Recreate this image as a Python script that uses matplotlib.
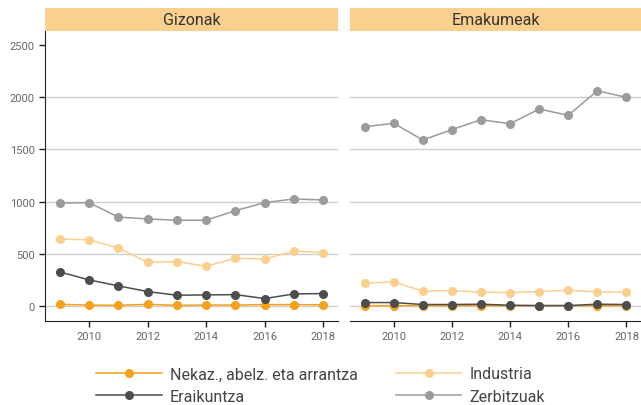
import matplotlib
matplotlib.use("Agg")
import matplotlib.pyplot as plt
from matplotlib.lines import Line2D
from matplotlib.patches import Rectangle

plt.rcParams['font.family'] = ['Roboto', 'DejaVu Sans']

years = [2009, 2010, 2011, 2012, 2013, 2014, 2015, 2016, 2017, 2018]
panels = ["Gizonak", "Emakumeak"]
series = ["Nekaz., abelz. eta arrantza", "Industria", "Eraikuntza", "Zerbitzuak"]
colors = ["#f4a11c", "#fbd08e", "#4d4d4d", "#9b9b9b"]

gizonak = {
    "Nekaz., abelz. eta arrantza": [15, 8, 5, 15, 5, 8, 8, 12, 12, 10],
    "Industria": [642, 632, 556, 418, 424, 380, 457, 450, 524, 511],
    "Eraikuntza": [326, 249, 192, 137, 102, 105, 108, 70, 115, 118],
    "Zerbitzuak": [984, 990, 852, 833, 821, 821, 913, 990, 1025, 1015],
}
emakumeak = {
    "Nekaz., abelz. eta arrantza": [2, 2, 2, 3, 2, 2, 2, 2, 2, 2],
    "Industria": [217, 230, 141, 147, 131, 128, 137, 150, 134, 134],
    "Eraikuntza": [32, 32, 13, 13, 16, 6, 3, 3, 16, 13],
    "Zerbitzuak": [1717, 1750, 1590, 1689, 1785, 1746, 1887, 1827, 2062, 1999],
}
data = [gizonak, emakumeak]

fig = plt.figure(figsize=(6.41, 4.06), dpi=100)
boxes = [(45, 338), (350, 641)]
W, H = 641, 406

for i, (x0, x1) in enumerate(boxes):
    ax = fig.add_axes([x0 / W, 1 - 322 / H, (x1 - x0) / W, 290 / H])
    for y in [0, 500, 1000, 1500, 2000]:
        ax.axhline(y, color="#cccccc", lw=1, zorder=0)
    for s, c in zip(series, colors):
        ax.plot(years, data[i][s], color=c, marker="o", ms=5.5, lw=1.1, zorder=3)
    ax.set_xlim(2008.5, 2018.5)
    ax.set_ylim(-145, 2635)
    ax.set_xticks([2010, 2012, 2014, 2016, 2018])
    ax.set_yticks([0, 500, 1000, 1500, 2000, 2500])
    for sp in ["top", "right"]:
        ax.spines[sp].set_visible(False)
    ax.spines["bottom"].set_color("#222222")
    ax.tick_params(axis="both", labelsize=8, colors="#666666", length=4, width=1)
    ax.tick_params(axis="x", color="#222222")
    if i == 0:
        ax.spines["left"].set_color("#222222")
        ax.tick_params(axis="y", color="#222222")
    else:
        ax.spines["left"].set_visible(False)
        ax.tick_params(axis="y", left=False, labelleft=False)
    # strip header
    sax = fig.add_axes([x0 / W, 1 - 32 / H, (x1 - x0) / W, 23 / H])
    sax.add_patch(Rectangle((0, 0), 1, 1, color="#fad08e", transform=sax.transAxes))
    sax.text(0.5, 0.5, panels[i], ha="center", va="center", fontsize=11.5, color="#333333")
    sax.axis("off")

handles = [Line2D([], [], color=c, marker="o", ms=5.5, lw=1.1) for c in colors]
order = [0, 2, 1, 3]
fig.legend([handles[k] for k in order], [series[k] for k in order],
           loc="center", bbox_to_anchor=(0.5, 1 - 386 / H), ncol=2, frameon=False,
           fontsize=11.5, handlelength=4.1, handletextpad=0.5, columnspacing=2.4,
           labelspacing=0.45, labelcolor="#444444")

fig.savefig("out.png", dpi=100)
